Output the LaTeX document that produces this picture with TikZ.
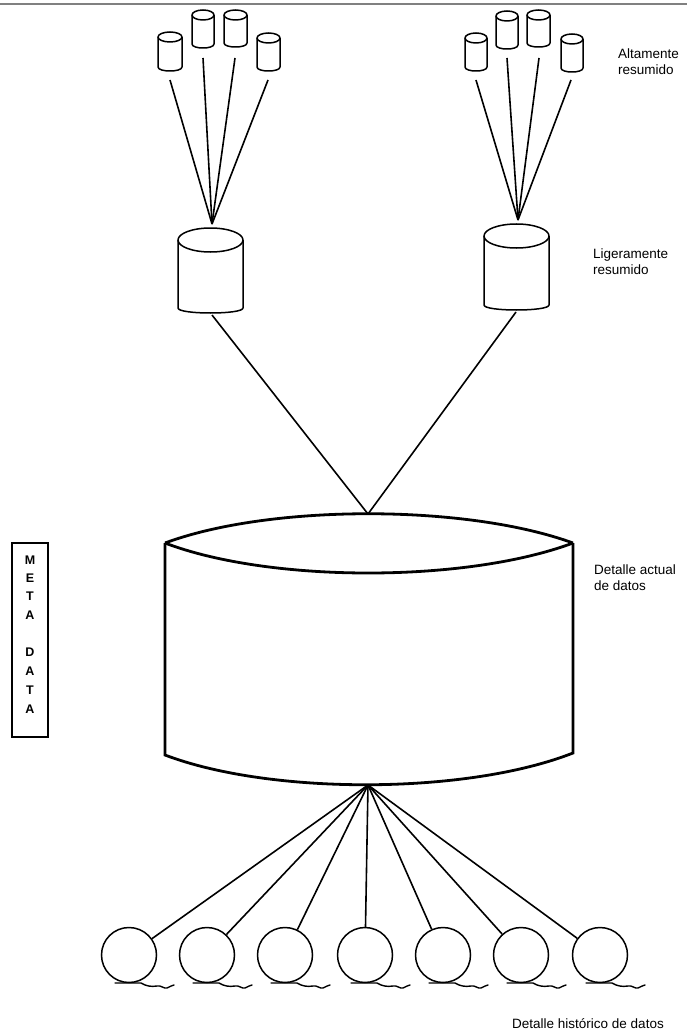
\documentclass[tikz,border=0pt]{standalone}
\usepackage{fontspec}
\setmainfont{Liberation Sans}
\begin{document}
\begin{tikzpicture}[x=1pt,y=-1pt,
  cyl/.style={draw=black,fill=white,line width=1.5pt,line join=round},
  bigcyl/.style={draw=black,line width=2.8pt,line join=miter},
  conn/.style={draw=black,line width=1.6pt},
  hcirc/.style={circle,draw=black,line width=1.5pt,minimum size=55pt,inner sep=0pt},
  lab/.style={font=\fontsize{13.5}{16}\selectfont,align=left,inner sep=0pt},
  metal/.style={font=\fontsize{12.5}{14}\selectfont\bfseries,inner sep=0pt}]
\useasboundingbox (0,0) rectangle (687,1032);
\newcommand\cylshape[6]{%
  \path[cyl] (#1,#2+#5) -- (#1,#2+#4-#6) .. controls (#1,#2+#4+#6/3) and (#1+#3,#2+#4+#6/3) .. (#1+#3,#2+#4-#6) -- (#1+#3,#2+#5);
  \draw[cyl] (#1+#3/2,#2+#5) ellipse[x radius=#3/2,y radius=#5];}
% top rule
\draw[gray,line width=1.5pt] (0,4) -- (687,4);
% small cylinders, left group
\cylshape{158}{32}{24}{39}{5}{4}
\cylshape{192}{10}{22}{38}{5}{4}
\cylshape{224}{10}{23}{37}{5}{4}
\cylshape{257}{33}{23}{38}{5}{4}
% small cylinders, right group
\cylshape{465}{33}{22}{38}{5}{4}
\cylshape{496}{11}{22}{38}{5}{4}
\cylshape{527}{10}{23}{37}{5}{4}
\cylshape{561}{34}{22}{38}{5}{4}
\coordinate (a1) at (170,80);
\coordinate (a2) at (203,58);
\coordinate (a3) at (235,58);
\coordinate (a4) at (268,80);
\coordinate (b1) at (476,80);
\coordinate (b2) at (507,58);
\coordinate (b3) at (539,58);
\coordinate (b4) at (571,80);
\coordinate (ja) at (212,224);
\coordinate (jb) at (518,220);
\foreach \s in {a1,a2,a3,a4} \draw[conn] (\s) -- (ja);
\foreach \s in {b1,b2,b3,b4} \draw[conn] (\s) -- (jb);
% medium cylinders
\cylshape{178}{228}{65}{85}{12}{5}
\cylshape{484}{224}{65}{86}{12}{5}
\coordinate (ma) at (212,315);
\coordinate (mb) at (516,312);
\coordinate (top) at (368,514);
\draw[conn] (ma) -- (top);
\draw[conn] (mb) -- (top);
% big cylinder
\draw[bigcyl] (165,543) .. controls (270,504) and (466,504) .. (573,543);
\draw[bigcyl] (165,543) .. controls (270,583) and (466,583) .. (573,543);
\draw[bigcyl] (165,543) -- (165,755) .. controls (270,795) and (466,795) .. (573,753) -- (573,543);
\coordinate (bot) at (368,785);
% historic circles
\foreach \i/\cx in {1/129,2/207,3/285,4/365,5/443,6/521,7/600} {
  \node[hcirc] (h\i) at (\cx,955) {};
  \draw[line width=1.4pt,line cap=round] (\cx-14,983) -- (\cx+12,983)
     .. controls (\cx+17,986) and (\cx+22,987) .. (\cx+28,986)
     .. controls (\cx+32,985) and (\cx+35,989) .. (\cx+38,988)
     .. controls (\cx+41,987) and (\cx+43,985) .. (\cx+45,985);
  \draw[conn] (bot) -- (h\i);
}
% labels
\node[lab,anchor=base west] (l1) at (618,75) {Altamente\\resumido};
\node[lab,anchor=base west] (l2) at (593,274) {Ligeramente\\resumido};
\node[lab,anchor=base west] (l3) at (594,590) {Detalle actual\\de datos};
\node[lab,anchor=base west] (l4) at (512,1028) {Detalle histórico de datos};
% meta data box
\draw[line width=1.2pt] (12,543) rectangle (48,737);
\foreach \ch/\yy in {M/560,E/578,T/596,A/615,D/652,A/671,T/690,A/709}
  \node[metal] at (30,\yy) {\ch};
\end{tikzpicture}
\end{document}
